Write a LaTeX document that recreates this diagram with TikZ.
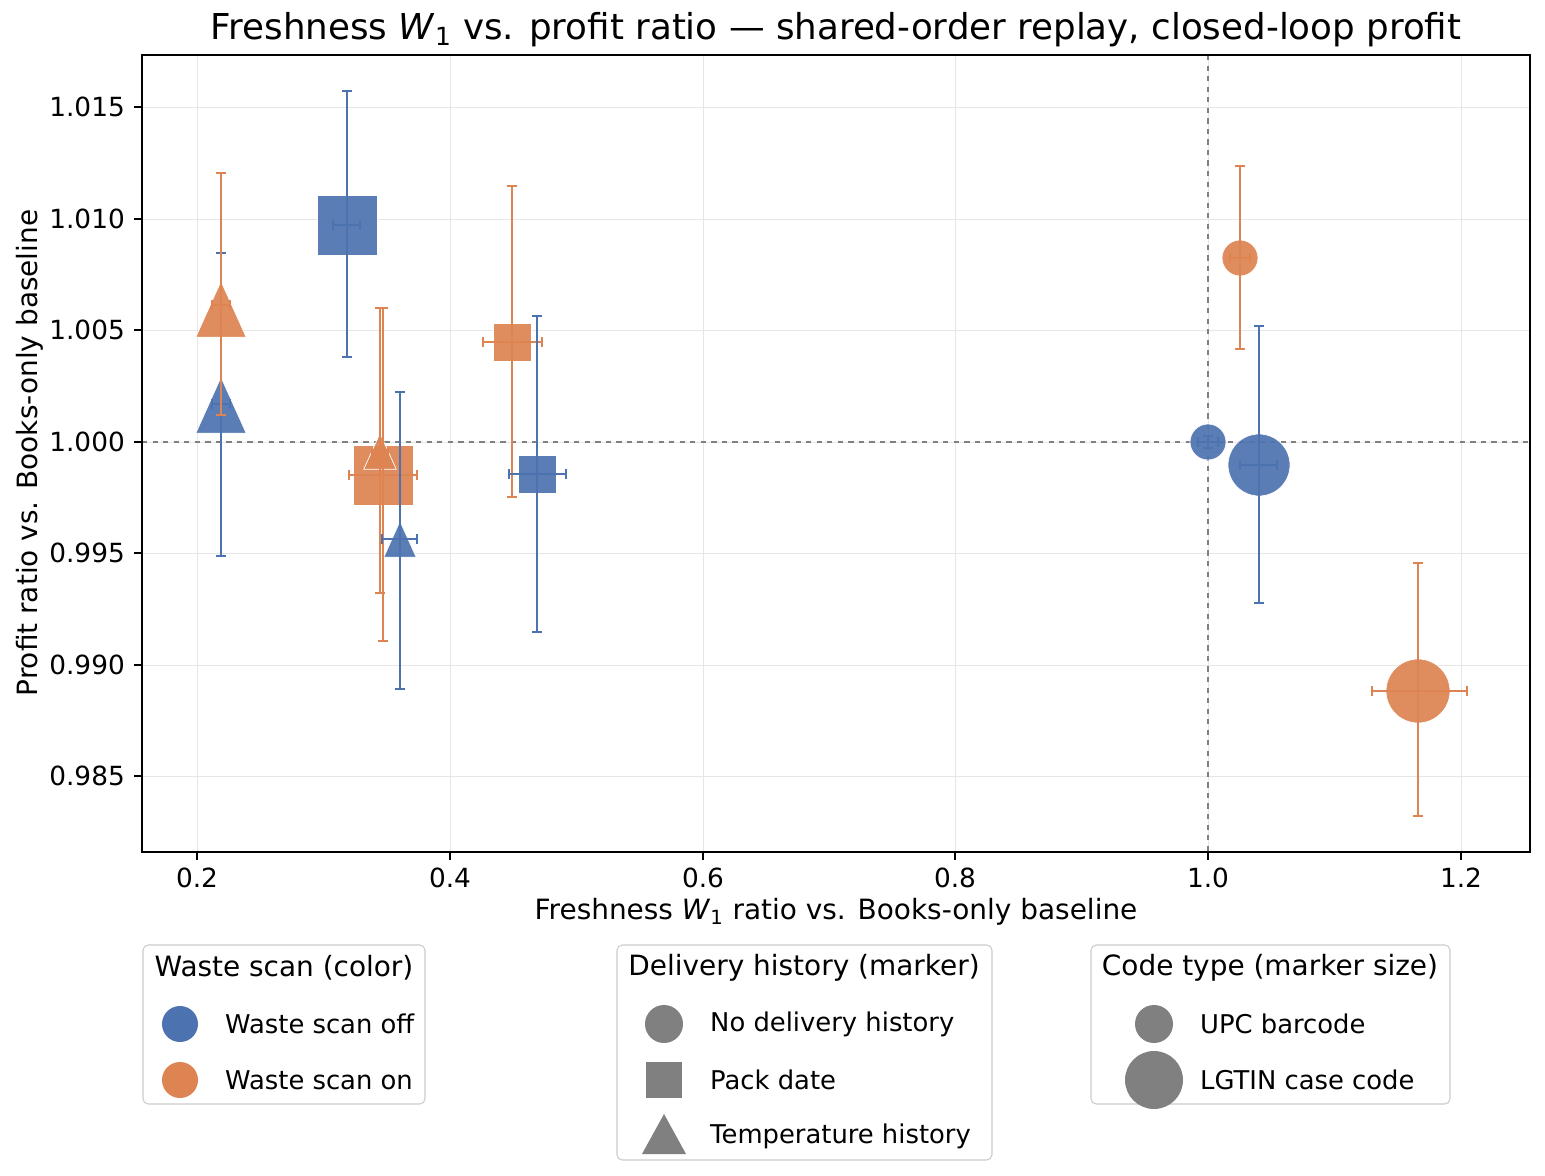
\documentclass[tikz,border=0pt]{standalone}
\usepackage{fontspec}
\setmainfont{DejaVu Sans}
\definecolor{cb}{HTML}{4C72B0}
\definecolor{co}{HTML}{DD8452}
\definecolor{gridc}{HTML}{E6E6E6}
\definecolor{mk}{HTML}{808080}
\newcommand\myerr[7]{% color x ytop ybot xl xr y
\draw[#1,line width=0.7pt] (#2,#3)--(#2,#4) (#2-5,#3)--(#2+5,#3) (#2-5,#4)--(#2+5,#4)
 (#5,#7)--(#6,#7) (#5,#7-5)--(#5,#7+5) (#6,#7-5)--(#6,#7+5);}
\newcommand\mysq[4]{\fill[#1,opacity=0.92] (#2-#4,#3-#4) rectangle (#2+#4,#3+#4);\draw[white,line width=0.4pt] (#2-#4,#3-#4) rectangle (#2+#4,#3+#4);}
\newcommand\mytri[4]{\filldraw[fill=#1,fill opacity=0.92,draw=white,line width=0.4pt] (#2,#3-1.1*#4)--(#2+0.9*#4,#3+0.9*#4)--(#2-0.9*#4,#3+0.9*#4)--cycle;}
\newcommand\mycir[4]{\filldraw[fill=#1,fill opacity=0.92,draw=white,line width=0.4pt] (#2,#3) circle (#4);}
\newcommand\W{\textit{W}\textsubscript{1}}
\begin{document}
\begin{tikzpicture}[x=0.02cm,y=-0.02cm,
 tick/.style={font=\fontsize{15}{17}\selectfont},
 lab/.style={font=\fontsize{15.9}{18}\selectfont},
 leg/.style={font=\fontsize{14.7}{17}\selectfont,anchor=west},
 legt/.style={font=\fontsize{15.9}{18}\selectfont},
 legbox/.style={draw=black!20,fill=white,rounded corners=3pt,line width=0.6pt}]
\useasboundingbox[fill=white] (0,0) rectangle (1545,1176);
% grid
\foreach \gx in {197,450,703,955,1208,1461} \draw[gridc,line width=0.5pt] (\gx,55)--(\gx,852);
\foreach \gy in {107,219,330,442,553,665,776} \draw[gridc,line width=0.5pt] (142,\gy)--(1530,\gy);
% reference lines
\draw[black!50,dashed,line width=0.7pt] (1208,55)--(1208,852);
\draw[black!50,dashed,line width=0.7pt] (142,442)--(1530,442);
% markers
\mysq{cb}{347}{225}{30}
\mytri{cb}{221}{408}{28}
\mytri{co}{221}{312}{28}
\mysq{co}{383}{475}{30}
\mytri{co}{380}{453}{18}
\mytri{cb}{400}{541}{18}
\mysq{co}{512}{342}{19}
\mysq{cb}{537}{474}{19}
\mycir{cb}{1208}{442}{18}
\mycir{cb}{1259}{465}{31}
\mycir{co}{1240}{258}{18}
\mycir{co}{1418}{691}{32}
% error bars
\myerr{cb}{347}{91}{357}{333}{360}{225}
\myerr{cb}{221}{253}{556}{212}{230}{404}
\myerr{co}{221}{173}{415}{212}{230}{305}
\myerr{co}{383}{308}{641}{349}{417}{475}
\myerr{co}{380}{308}{593}{372}{388}{453}
\myerr{cb}{400}{392}{689}{382}{417}{539}
\myerr{co}{512}{186}{497}{483}{542}{342}
\myerr{cb}{537}{316}{632}{509}{566}{474}
\myerr{cb}{1208}{436}{448}{1198}{1218}{442}
\myerr{cb}{1259}{326}{603}{1240}{1277}{465}
\myerr{co}{1240}{166}{349}{1230}{1250}{258}
\myerr{co}{1418}{563}{816}{1372}{1467}{691}
% axes frame
\draw[black,line width=0.8pt] (142,55) rectangle (1530,852);
\foreach \gx/\t in {197/0.2,450/0.4,703/0.6,955/0.8,1208/1.0,1461/1.2}{
 \draw[line width=0.8pt] (\gx,852)--(\gx,860);
 \node[tick,anchor=north] (xt\gx) at (\gx,862) {\t};}
\foreach \gy/\t in {107/1.015,219/1.010,330/1.005,442/1.000,553/0.995,665/0.990,776/0.985}{
 \draw[line width=0.8pt] (142,\gy)--(134,\gy);
 \node[tick,anchor=east] (yt\gy) at (131,\gy) {\t};}
\node[lab] (xl) at (836,912) {Freshness \W{} ratio vs. Books-only baseline};
\node[lab,rotate=90] (yl) at (30,453) {Profit ratio vs. Books-only baseline};
\node[font=\fontsize{20.3}{23}\selectfont] (title) at (836,30) {Freshness \W{} vs. profit ratio — shared-order replay, closed-loop profit};
% legend 1
\draw[legbox] (143,945) rectangle (425,1104);
\node[legt] (l1t) at (284,968) {Waste scan (color)};
\fill[cb] (180,1024) circle (18); \node[leg] (l1a) at (219,1024) {Waste scan off};
\fill[co] (180,1080) circle (18); \node[leg] (l1b) at (219,1080) {Waste scan on};
% legend 2
\draw[legbox] (617,945) rectangle (992,1160);
\node[legt] (l2t) at (804,968) {Delivery history (marker)};
\fill[mk] (664,1024) circle (19); \node[leg] (l2a) at (704,1024) {No delivery history};
\fill[mk] (646,1062) rectangle (682,1098); \node[leg] (l2b) at (704,1080) {Pack date};
\fill[mk] (664,1114)--(686,1154)--(642,1154)--cycle; \node[leg] (l2c) at (704,1136) {Temperature history};
% legend 3
\draw[legbox] (1091,945) rectangle (1450,1104);
\node[legt] (l3t) at (1270,968) {Code type (marker size)};
\fill[mk] (1154,1024) circle (19); \node[leg] (l3a) at (1194,1024) {UPC barcode};
\fill[mk] (1154,1080) circle (29); \node[leg] (l3b) at (1194,1080) {LGTIN case code};
\end{tikzpicture}
\end{document}
